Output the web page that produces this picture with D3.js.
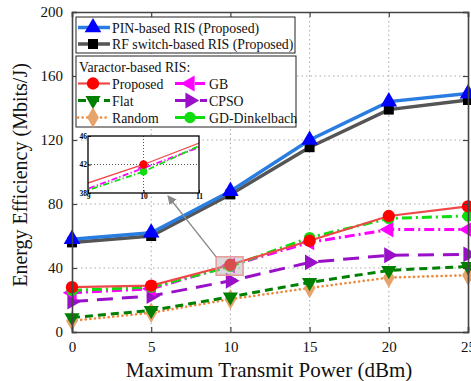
<!DOCTYPE html>
<html>
<head>
<meta charset="utf-8">
<script src="https://cdn.jsdelivr.net/npm/d3@7"></script>
<style>
  body { margin: 0; background: #fff; }
  text { font-family: "Liberation Serif", "Times New Roman", serif; }
</style>
</head>
<body>
<svg id="drawing_region"></svg>
<script>
// x values (dBm)
const power = [0, 5, 10, 15, 20, 25];
const xTicks = [0, 5, 10, 15, 20, 25];
const yTicks = [0, 40, 80, 120, 160, 200];

// energy efficiency (Mbits/J)
const pinRis    = [58, 62, 88, 120, 144, 149];
const rfRis     = [56, 60, 86, 115.5, 139, 145];
const proposed  = [28, 29, 42, 57, 72.5, 78.5];
const gb        = [24.5, 27, 41.5, 56, 64, 64];
const flat      = [9, 13.5, 22, 31, 38.5, 41];
const cpso      = [19, 22.5, 32, 43.5, 48, 48.5];
const random    = [7, 12, 20.5, 27.5, 34, 35.5];
const gdDinkel  = [26, 28, 41, 59, 71, 72.5];

const insetXTicks = [9, 10, 11];
const insetYTicks = [38, 42, 46];

const series = [
    { name: 'Random', values: random, color: '#f0883a', width: 2.6, dash: '0.1,4.5', cap: 'round', sym: d3.symbolDiamond, rot: 0, mcolor: '#e8a36a', size: 120 },
    { name: 'Flat', values: flat, color: '#008000', width: 3, dash: '8,5', sym: d3.symbolTriangle, rot: 180, mcolor: '#008000', size: 100 },
    { name: 'CPSO', values: cpso, color: '#9a10c8', width: 3, dash: '16,9', sym: d3.symbolTriangle, rot: 90, mcolor: '#9a10c8', size: 110 },
    { name: 'GB', values: gb, color: '#ff00ff', width: 3, dash: '10,4,2,4', sym: d3.symbolTriangle, rot: -90, mcolor: '#ff00ff', size: 110 },
    { name: 'GD-Dinkelbach', values: gdDinkel, color: '#10dd10', width: 3, dash: '10,4,2,4', sym: d3.symbolCircle, rot: 0, mcolor: '#10dd10', size: 100 },
    { name: 'Proposed', values: proposed, color: '#f04848', width: 2.2, dash: null, sym: d3.symbolCircle, rot: 0, mcolor: '#ff0000', size: 120 },
    { name: 'RF switch-based RIS (Proposed)', values: rfRis, color: '#555555', width: 3.5, dash: null, sym: d3.symbolSquare, rot: 0, mcolor: '#000000', size: 100 },
    { name: 'PIN-based RIS (Proposed)', values: pinRis, color: '#2a7de0', width: 3.5, dash: null, sym: d3.symbolTriangle, rot: 0, mcolor: '#0000ff', size: 120 }
];

const W = 471, H = 381;
const margin = { top: 12, right: 3, bottom: 49, left: 72 };
const iw = W - margin.left - margin.right;
const ih = H - margin.top - margin.bottom;

const svg = d3.select('#drawing_region').attr('width', W).attr('height', H);
const chart = svg.append('g').attr('transform', `translate(${margin.left},${margin.top})`);

const xscale = d3.scaleLinear().domain([0, 25]).range([0, iw]);
const yscale = d3.scaleLinear().domain([0, 200]).range([ih, 0]);

// grid
chart.append('g').selectAll('line.vg').data(xTicks.slice(1, -1)).enter().append('line')
    .attr('x1', d => xscale(d)).attr('x2', d => xscale(d))
    .attr('y1', 0).attr('y2', ih)
    .attr('stroke', '#aaa').attr('stroke-width', 1).attr('stroke-dasharray', '1.5,3');
chart.append('g').selectAll('line.hg').data(yTicks.slice(1, -1)).enter().append('line')
    .attr('x1', 0).attr('x2', iw)
    .attr('y1', d => yscale(d)).attr('y2', d => yscale(d))
    .attr('stroke', '#aaa').attr('stroke-width', 1).attr('stroke-dasharray', '1.5,3');

function drawSeries(g, xs, ys, sizeScale, strokeScale) {
    series.forEach(s => {
        const pts = power.map((p, i) => [p, s.values[i]]);
        const line = d3.line().x(d => xs(d[0])).y(d => ys(d[1]));
        g.append('path')
            .attr('d', line(pts))
            .attr('fill', 'none')
            .attr('stroke', s.color)
            .attr('stroke-width', s.width * strokeScale)
            .attr('stroke-linecap', s.cap || 'butt')
            .attr('stroke-dasharray', s.dash ? s.dash.split(',').map(v => +v * strokeScale).join(',') : null);
        g.selectAll(null).data(pts).enter().append('path')
            .attr('d', d3.symbol().type(s.sym).size(s.size * sizeScale))
            .attr('transform', d => `translate(${xs(d[0])},${ys(d[1])}) rotate(${s.rot})`)
            .attr('fill', s.mcolor);
    });
}

drawSeries(chart, xscale, yscale, 1, 1);

// axes (inward ticks, boxed)
const axisCol = '#444';
chart.append('g').attr('transform', `translate(0,${ih})`)
    .call(d3.axisBottom(xscale).tickValues(xTicks).tickSize(-5).tickPadding(9));
chart.append('g')
    .call(d3.axisLeft(yscale).tickValues(yTicks).tickSize(-5).tickPadding(9));
chart.append('g').call(d3.axisTop(xscale).tickValues(xTicks).tickSize(-5).tickFormat(''));
chart.append('g').attr('transform', `translate(${iw},0)`)
    .call(d3.axisRight(yscale).tickValues(yTicks).tickSize(-5).tickFormat(''));
chart.selectAll('.domain').attr('stroke', axisCol).attr('stroke-width', 1.6);
chart.selectAll('.tick line').attr('stroke', axisCol).attr('stroke-width', 1.2);
chart.selectAll('.tick text').attr('font-size', '15px').attr('fill', '#111')
    .style('font-family', '"Liberation Serif", serif');

// axis titles
svg.append('text')
    .attr('x', margin.left + iw / 2 - 1).attr('y', H - 4)
    .attr('text-anchor', 'middle').attr('font-size', '21px').attr('fill', '#111')
    .text('Maximum Transmit Power (dBm)');
svg.append('text')
    .attr('transform', `translate(27,${margin.top + ih / 2 + 3}) rotate(-90)`)
    .attr('text-anchor', 'middle').attr('font-size', '20px').attr('fill', '#111')
    .text('Energy Efficiency (Mbits/J)');

// zoom highlight box + arrow
const boxX0 = 9.1, boxX1 = 10.8, boxY0 = 35.5, boxY1 = 47;
chart.append('rect')
    .attr('x', xscale(boxX0)).attr('y', yscale(boxY1))
    .attr('width', xscale(boxX1) - xscale(boxX0)).attr('height', yscale(boxY0) - yscale(boxY1))
    .attr('fill', 'rgba(170,170,170,0.45)').attr('stroke', '#e59a9a').attr('stroke-width', 1.5);

svg.append('defs').append('marker')
    .attr('id', 'arrow').attr('viewBox', '0 0 10 10').attr('refX', 9).attr('refY', 5)
    .attr('markerWidth', 7).attr('markerHeight', 7).attr('orient', 'auto-start-reverse')
    .append('path').attr('d', 'M0,0 L10,5 L0,10 z').attr('fill', '#888');

// inset
const inset = { x: 88, y: 136, w: 111, h: 57 };
const ix = d3.scaleLinear().domain([9, 11]).range([0, inset.w]);
const iy = d3.scaleLinear().domain([38, 46]).range([inset.h, 0]);

chart.append('line')
    .attr('x1', xscale(boxX0)).attr('y1', yscale(boxY1))
    .attr('x2', inset.x - margin.left + 80).attr('y2', inset.y - margin.top + inset.h + 3)
    .attr('stroke', '#888').attr('stroke-width', 1.3).attr('marker-end', 'url(#arrow)');

const ig = svg.append('g').attr('transform', `translate(${inset.x},${inset.y})`);
ig.append('rect').attr('width', inset.w).attr('height', inset.h).attr('fill', '#fff');
svg.append('defs').append('clipPath').attr('id', 'insetclip')
    .append('rect').attr('width', inset.w).attr('height', inset.h);
ig.selectAll('line.ivg').data(insetXTicks.slice(1, -1)).enter().append('line')
    .attr('x1', d => ix(d)).attr('x2', d => ix(d)).attr('y1', 0).attr('y2', inset.h)
    .attr('stroke', '#555').attr('stroke-dasharray', '1,2');
ig.selectAll('line.ihg').data(insetYTicks.slice(1, -1)).enter().append('line')
    .attr('y1', d => iy(d)).attr('y2', d => iy(d)).attr('x1', 0).attr('x2', inset.w)
    .attr('stroke', '#555').attr('stroke-dasharray', '1,2');
const iclip = ig.append('g').attr('clip-path', 'url(#insetclip)');
drawSeries(iclip, ix, iy, 0.45, 0.6);
ig.append('rect').attr('width', inset.w).attr('height', inset.h)
    .attr('fill', 'none').attr('stroke', '#000').attr('stroke-width', 1.3);
ig.append('g').attr('transform', `translate(0,${inset.h})`)
    .call(d3.axisBottom(ix).tickValues(insetXTicks).tickFormat(d3.format('d')).tickSize(-3).tickPadding(1));
ig.append('g')
    .call(d3.axisLeft(iy).tickValues(insetYTicks).tickFormat(d3.format('d')).tickSize(-3).tickPadding(1));
ig.selectAll('.domain').remove();
ig.selectAll('.tick text').attr('font-size', '7.5px').attr('font-weight', 'bold')
    .style('font-family', '"Liberation Serif", serif');

// legends
function legendItem(g, s, x, y, label) {
    g.append('line').attr('x1', x).attr('x2', x + 32).attr('y1', y).attr('y2', y)
        .attr('stroke', s.color).attr('stroke-width', s.width)
        .attr('stroke-linecap', s.cap || 'butt')
        .attr('stroke-dasharray', s.dash);
    g.append('path')
        .attr('d', d3.symbol().type(s.sym).size(s.size))
        .attr('transform', `translate(${x + 15},${y}) rotate(${s.rot})`)
        .attr('fill', s.mcolor);
    g.append('text').attr('x', x + 34).attr('y', y + 5)
        .attr('font-size', '13.8px').attr('fill', '#111').text(label);
}
const byName = n => series.find(s => s.name === n);

const lg1 = svg.append('g');
lg1.append('rect').attr('x', 76).attr('y', 17).attr('width', 219).attr('height', 36)
    .attr('fill', '#fff').attr('stroke', '#222').attr('stroke-width', 1);
legendItem(lg1, byName('PIN-based RIS (Proposed)'), 78, 27.5, 'PIN-based RIS (Proposed)');
legendItem(lg1, byName('RF switch-based RIS (Proposed)'), 78, 44, 'RF switch-based RIS (Proposed)');

const lg2 = svg.append('g');
lg2.append('rect').attr('x', 76).attr('y', 56).attr('width', 220).attr('height', 71)
    .attr('fill', '#fff').attr('stroke', '#222').attr('stroke-width', 1);
lg2.append('text').attr('x', 79).attr('y', 72).attr('font-size', '13.8px').attr('fill', '#111')
    .text('Varactor-based RIS:');
legendItem(lg2, byName('Proposed'), 78, 83.5, 'Proposed');
legendItem(lg2, byName('Flat'), 78, 100.5, 'Flat');
legendItem(lg2, byName('Random'), 78, 117.5, 'Random');
legendItem(lg2, byName('GB'), 175, 83.5, 'GB');
legendItem(lg2, byName('CPSO'), 175, 100.5, 'CPSO');
legendItem(lg2, byName('GD-Dinkelbach'), 175, 117.5, 'GD-Dinkelbach');
</script>
</body>
</html>
